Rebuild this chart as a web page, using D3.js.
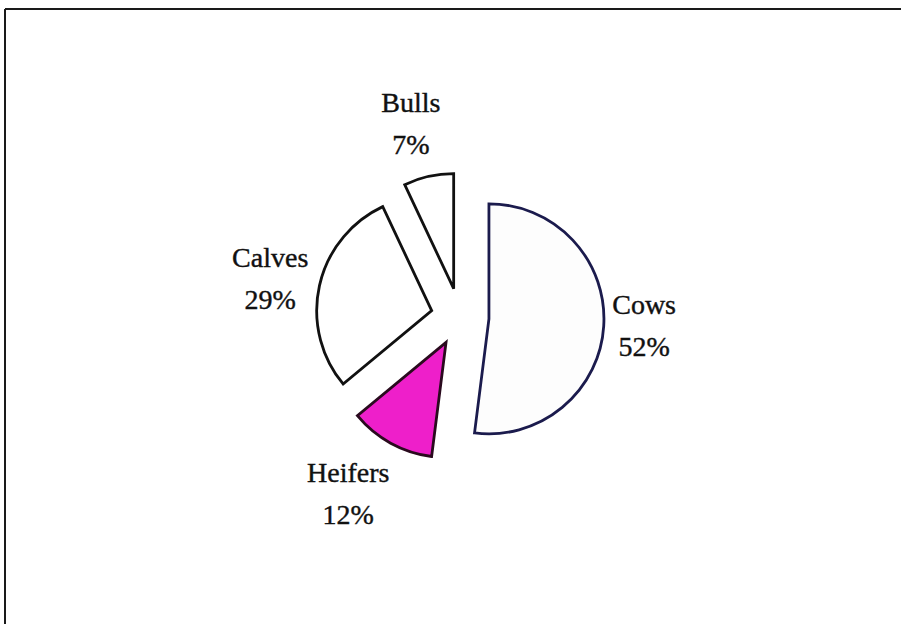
<!DOCTYPE html>
<html>
<head>
<meta charset="utf-8">
<script src="https://cdn.jsdelivr.net/npm/d3@7/dist/d3.min.js"></script>
<style>
  html, body { margin: 0; padding: 0; background: #fff; }
  svg { display: block; }
</style>
</head>
<body>
<script>
// Herd composition, clockwise from 12 o'clock
const categories = ["Cows", "Heifers", "Calves", "Bulls"];
const shares = [52, 12, 29, 7];

// Styling per slice
const fills = ["#fdfdfd", "#ee1fca", "#ffffff", "#ffffff"];
const strokes = ["#1b1b4d", "#2a0a1e", "#111111", "#111111"];
// Label placement: distance from pie centre and angular nudge (degrees)
const labelRadius = [185, 217, 192, 190];
const labelNudge = [2, 2.2, -3.9, -2.4];

const W = 901, H = 624;
const cx = 460, cy = 317, R = 115, explode = 29;

const svg = d3.select("body").append("svg")
  .attr("width", W).attr("height", H);

// Frame (top and left edges)
svg.append("line").attr("x1", 5).attr("y1", 9).attr("x2", W).attr("y2", 9)
  .attr("stroke", "#1a1a1a").attr("stroke-width", 2);
svg.append("line").attr("x1", 5).attr("y1", 9).attr("x2", 5).attr("y2", H)
  .attr("stroke", "#1a1a1a").attr("stroke-width", 2);

const data = categories.map((c, i) => ({ name: c, value: shares[i], i }));
const pie = d3.pie().sort(null).value(d => d.value).startAngle(0).endAngle(2 * Math.PI);
const arcs = pie(data);
const arc = d3.arc().innerRadius(0).outerRadius(R);

const g = svg.append("g").attr("transform", `translate(${cx},${cy})`);

g.selectAll("path.slice").data(arcs).enter().append("path")
  .attr("class", "slice")
  .attr("d", arc)
  .attr("transform", d => {
    const a = (d.startAngle + d.endAngle) / 2;
    return `translate(${explode * Math.sin(a)},${-explode * Math.cos(a)})`;
  })
  .attr("fill", d => fills[d.data.i])
  .attr("stroke", d => strokes[d.data.i])
  .attr("stroke-width", 2.8)
  .attr("stroke-linejoin", "miter");

const labels = g.selectAll("g.lbl").data(arcs).enter().append("g")
  .attr("class", "lbl")
  .attr("transform", d => {
    const a = (d.startAngle + d.endAngle) / 2 + labelNudge[d.data.i] * Math.PI / 180;
    const r = labelRadius[d.data.i];
    return `translate(${r * Math.sin(a)},${-r * Math.cos(a)})`;
  })
  .attr("font-family", "'Liberation Serif', 'Times New Roman', serif")
  .attr("font-size", 28)
  .attr("fill", "#111")
  .attr("stroke", "#111")
  .attr("stroke-width", 0.4)
  .attr("text-anchor", "middle");

labels.append("text").attr("y", -21).text(d => d.data.name);
labels.append("text").attr("y", 21).text(d => d.data.value + "%");
</script>
</body>
</html>
